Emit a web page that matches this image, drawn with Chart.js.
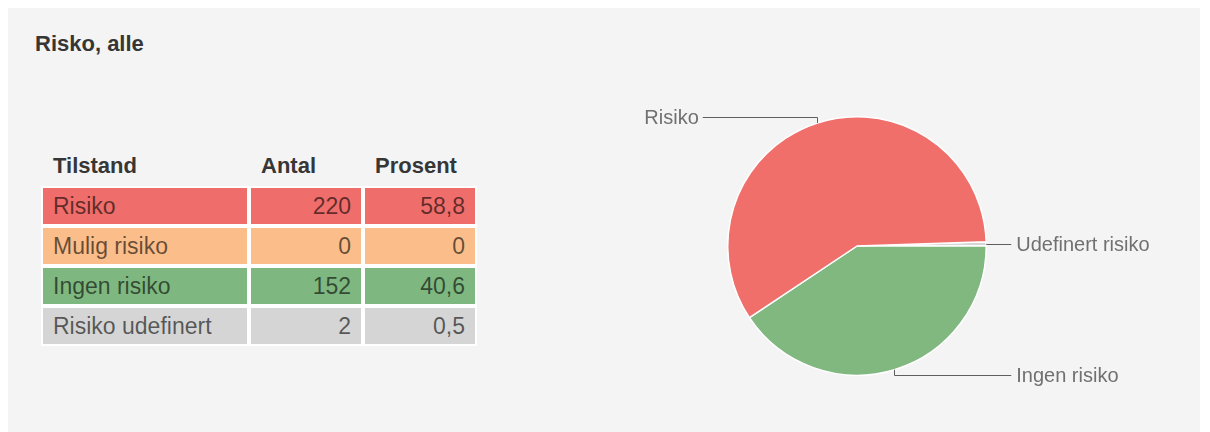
<!DOCTYPE html>
<html>
<head>
<meta charset="utf-8">
<script src="https://cdn.jsdelivr.net/npm/chart.js@4"></script>
<style>
  html, body { margin: 0; background: #fff; width: 1210px; height: 432px; overflow: hidden; font-family: "Liberation Sans", Arial, sans-serif; }
  #kort { position: absolute; left: 8px; top: 8px; width: 1192px; height: 424px; background: #f4f4f4; }
  #tittel { position: absolute; left: 27px; top: 23px; font-size: 22px; font-weight: bold; color: #363636; }
  #tabell { position: absolute; left: 33px; top: 138px; border-collapse: separate; border-spacing: 0; }
  #tabell th { border: 2px solid transparent; height: 36px; padding: 0 10px; text-align: left; font-size: 22px; font-weight: bold; color: #363636; }
  #tabell td { border: 2px solid #fff; height: 36px; line-height: 36px; padding: 0 10px; font-size: 23px; color: rgba(0,0,0,0.6); }
  #tabell td.tall { text-align: right; }
  .k1 { width: 184px; }
  .k2, .k3 { width: 90px; }
  #pieBoks { position: absolute; left: 552px; top: 52px; width: 640px; height: 372px; }
</style>
</head>
<body>
<div id="kort">
  <div id="tittel">Risko, alle</div>
  <table id="tabell">
    <thead>
      <tr><th class="k1">Tilstand</th><th class="k2">Antal</th><th class="k3">Prosent</th></tr>
    </thead>
    <tbody id="rader"></tbody>
  </table>
  <div id="pieBoks"><canvas id="pieCanvas" width="640" height="372"></canvas></div>
</div>
<script>
// tabellens data
const tilstander = ['Risiko', 'Mulig risiko', 'Ingen risiko', 'Risiko udefinert']
const antal = [220, 0, 152, 2]
const prosent = [58.8, 0, 40.6, 0.5]
// navn i kakediagrammet
const kakeEtiketter = ['Risiko', 'Mulig risiko', 'Ingen risiko', 'Udefinert risiko']
const radFarger = ['#ef6d6a', '#fbbd89', '#7eb77f', '#d5d5d5']
const kakeFarger = ['#f06f6b', '#f9bd89', '#80b880', '#d6d6d6']

let rader = ''
for (let i = 0; i < tilstander.length; i++) {
    let bg = radFarger[i]
    rader += `<tr>
        <td class="k1" style="background:${bg}">${tilstander[i]}</td>
        <td class="k2 tall" style="background:${bg}">${antal[i]}</td>
        <td class="k3 tall" style="background:${bg}">${String(prosent[i]).replace('.', ',')}</td>
    </tr>`
}
document.getElementById('rader').innerHTML = rader

// etiketter med linjer utenfor kaka
const linjeEtiketter = {
    id: 'linjeEtiketter',
    afterDatasetsDraw(chart) {
        const ctx = chart.ctx
        const meta = chart.getDatasetMeta(0)
        const data = chart.data.datasets[0].data
        ctx.save()
        ctx.strokeStyle = '#5e5e5e'
        ctx.lineWidth = 1
        ctx.fillStyle = '#707070'
        ctx.font = '20px "Liberation Sans", Arial, sans-serif'
        ctx.textBaseline = 'middle'
        meta.data.forEach((arc, i) => {
            if (!data[i]) return
            const p = arc.getProps(['x', 'y', 'startAngle', 'endAngle', 'outerRadius'], true)
            const mid = (p.startAngle + p.endAngle) / 2
            const cos = Math.cos(mid), sin = Math.sin(mid)
            const ex = Math.round(p.x + cos * p.outerRadius) + 0.5
            const ey = p.y + sin * p.outerRadius
            const ly = Math.round(p.y + sin * (p.outerRadius + 6)) + 0.5
            const hoyre = cos >= 0
            const lx = p.x + (hoyre ? 1 : -1) * (p.outerRadius + 25)
            ctx.beginPath()
            ctx.moveTo(ex, ey)
            ctx.lineTo(ex, ly)
            ctx.lineTo(lx, ly)
            ctx.stroke()
            ctx.textAlign = hoyre ? 'left' : 'right'
            ctx.fillText(chart.data.labels[i], lx + (hoyre ? 5 : -4), ly + 1)
        })
        ctx.restore()
    }
}

// kaka tegnes mot klokka i originalen, så rekkefølgen snus
const total = antal.reduce((a, b) => a + b, 0)
const rotasjon = 90 - 360 * antal[antal.length - 1] / total

window.kake = new Chart(document.getElementById('pieCanvas'), {
    type: 'pie',
    data: {
        labels: kakeEtiketter.slice().reverse(),
        datasets: [{
            data: antal.slice().reverse(),
            backgroundColor: kakeFarger.slice().reverse(),
            borderColor: '#ffffff',
            borderWidth: 1.5
        }]
    },
    options: {
        responsive: false,
        animation: false,
        rotation: rotasjon,
        layout: {
            padding: { left: 167, right: 213, top: 56, bottom: 56 }
        },
        plugins: {
            legend: { display: false },
            tooltip: { enabled: false }
        }
    },
    plugins: [linjeEtiketter]
})
</script>
</body>
</html>
